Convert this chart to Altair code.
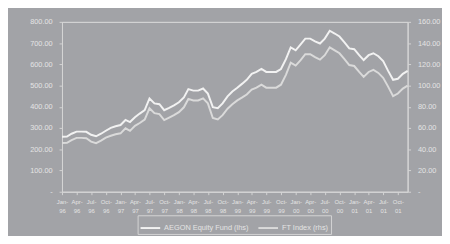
import altair as alt
import pandas as pd

# Monthly observations, Jan-1996 .. Dec-2001
dates = list(pd.date_range("1996-01-01", periods=72, freq="MS").strftime("%Y-%m-%d"))

fund = [259, 260, 273, 283, 283, 282, 268, 261, 273, 287, 301, 308,
        314, 338, 328, 351, 368, 384, 439, 416, 412, 384, 395, 407,
        421, 444, 483, 476, 476, 486, 462, 398, 393, 416, 449, 472,
        490, 509, 527, 555, 564, 578, 564, 564, 564, 578, 624, 680,
        666, 694, 721, 721, 708, 698, 721, 758, 745, 731, 703, 675,
        671, 643, 620, 643, 652, 638, 615, 569, 527, 532, 555, 569]

ft_index = [45.8, 46.0, 48.6, 50.7, 50.7, 50.4, 47.2, 45.8, 48.1, 50.9, 52.7, 54.1,
            55.0, 59.7, 57.3, 62.0, 64.7, 68.0, 78.6, 74.0, 73.1, 67.5, 69.8, 72.1,
            74.9, 79.5, 87.4, 86.0, 86.0, 87.9, 83.2, 69.4, 68.0, 72.1, 78.2, 82.3,
            86.0, 88.8, 91.6, 96.2, 98.0, 100.8, 98.0, 98.0, 98.0, 100.8, 110.1, 121.6,
            118.8, 123.9, 129.5, 129.5, 126.7, 124.4, 128.6, 136.0, 133.2, 130.4, 124.9, 119.3,
            118.4, 112.8, 108.2, 112.8, 114.7, 111.9, 107.3, 99.0, 90.0, 92.5, 97.1, 99.9]

series_names = ["AEGON Equity Fund (lhs)", "FT Index (rhs)"]
left_ticks = [0, 100, 200, 300, 400, 500, 600, 700, 800]
right_ticks = [0, 20, 40, 60, 80, 100, 120, 140, 160]

BG = "#a2a3a7"
FG = "#e4e4e4"
AX = "#d4d4d4"

df = pd.DataFrame({"date": dates, series_names[0]: fund, series_names[1]: ft_index})
df = df.melt(id_vars="date", var_name="series", value_name="value")

tick_dates = [alt.DateTime(year=1996 + q // 4, month=(q % 4) * 3 + 1, date=1, utc=True) for q in range(24)]

x_enc = alt.X(
    "date:T",
    scale=alt.Scale(type="utc",
                    domain=[alt.DateTime(year=1996, month=1, date=1, utc=True),
                            alt.DateTime(year=2001, month=12, date=1, utc=True)]),
    axis=alt.Axis(values=tick_dates, title=None, grid=False,
                  labelExpr="[utcFormat(datum.value, '%b-'), utcFormat(datum.value, '%y')]",
                  labelFontSize=6, labelLineHeight=9, labelColor=FG, labelPadding=4,
                  tickSize=3, tickColor=AX, domainColor=AX, labelAngle=0,
                  labelOverlap=False, labelFlush=False),
)

color_enc = alt.Color(
    "series:N",
    scale=alt.Scale(domain=series_names, range=["#f2f2f2", "#dadada"]),
    legend=alt.Legend(title=None, orient="none", legendX=77, legendY=197,
                      direction="horizontal", symbolType="stroke", symbolSize=400,
                      symbolStrokeWidth=2, labelFontSize=7.5, labelColor=FG,
                      strokeColor=AX, padding=2, columnPadding=6, labelOffset=3),
)

base = alt.Chart(df).encode(x=x_enc, color=color_enc)

left = base.transform_filter(alt.datum.series == series_names[0]).mark_line(strokeWidth=2).encode(
    y=alt.Y("value:Q", scale=alt.Scale(domain=[0, 800], nice=False),
            axis=alt.Axis(orient="left", values=left_ticks, title=None, grid=False,
                          labelExpr="datum.value == 0 ? '-     ' : format(datum.value, '.2f')",
                          labelFontSize=7.5, labelColor=FG, labelPadding=7, tickSize=3,
                          tickColor=AX, domainColor=AX))
)

right = base.transform_filter(alt.datum.series == series_names[1]).mark_line(strokeWidth=2).encode(
    y=alt.Y("value:Q", scale=alt.Scale(domain=[0, 160], nice=False),
            axis=alt.Axis(orient="right", values=right_ticks, title=None, grid=False,
                          labelExpr="datum.value == 0 ? '    -' : format(datum.value, '.2f')",
                          labelFontSize=7.5, labelColor=FG, labelPadding=7, tickSize=3,
                          tickColor=AX, domainColor=AX))
)

chart = alt.layer(left, right).resolve_scale(y="independent").properties(
    width=352, height=173,
    background=BG,
    padding={"left": 55, "top": 12, "right": 35, "bottom": 43},
    autosize=alt.AutoSizeParams(type="none"),
).configure_view(stroke=AX, strokeWidth=1).configure(font="Liberation Sans")

chart.save("out.html", embed_options={"renderer": "svg", "actions": False})
